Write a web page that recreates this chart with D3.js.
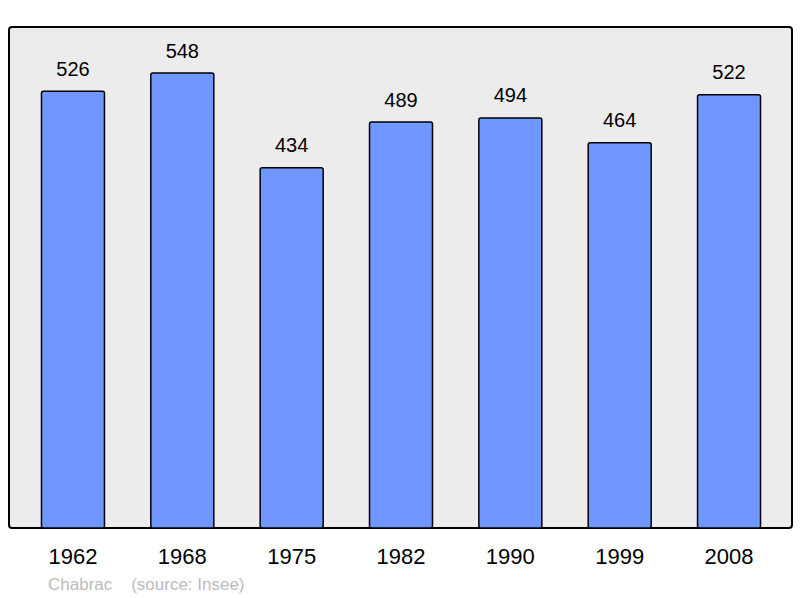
<!DOCTYPE html>
<html><head><meta charset="utf-8">
<script src="https://cdn.jsdelivr.net/npm/d3@7"></script>
<style>body{margin:0;background:#fff}svg{display:block}</style>
</head><body>
<script>
const years = ["1962","1968","1975","1982","1990","1999","2008"];
const population = [526,548,434,489,494,464,522];
const sourceText = ["Chabrac", "(source: Insee)"];

const W = 800, H = 598;
const svg = d3.select("body").append("svg").attr("width", W).attr("height", H)
  .style("font-family", "'Liberation Sans', Arial, sans-serif");

const frame = {x0: 9, y0: 27, x1: 792, y1: 528};
svg.append("rect").attr("x", frame.x0).attr("y", frame.y0)
  .attr("width", frame.x1 - frame.x0).attr("height", frame.y1 - frame.y0)
  .attr("rx", 3).attr("fill", "#ececec").attr("stroke", "#000").attr("stroke-width", 2);

const x = d3.scaleBand().domain(years).range([18.3, 783.7]).paddingInner(0.424).paddingOuter(0.212);
const y = d3.scaleLinear().domain([0, d3.max(population) * 1.1]).range([frame.y1, frame.y0]);

const data = years.map((yr, i) => ({yr, v: population[i]}));

svg.selectAll("rect.bar").data(data).enter().append("rect").attr("class", "bar")
  .attr("x", d => x(d.yr)).attr("y", d => y(d.v) + 0.5)
  .attr("width", x.bandwidth()).attr("height", d => y(0) - y(d.v) - 0.5)
  .attr("rx", 2).attr("fill", "#7097ff").attr("stroke", "#000").attr("stroke-width", 1.5);

svg.selectAll("text.val").data(data).enter().append("text").attr("class", "val")
  .attr("x", d => x(d.yr) + x.bandwidth() / 2).attr("y", d => y(d.v) - 15)
  .attr("text-anchor", "middle").attr("font-size", 20).attr("fill", "#000")
  .text(d => d.v);

svg.selectAll("text.yr").data(data).enter().append("text").attr("class", "yr")
  .attr("x", d => x(d.yr) + x.bandwidth() / 2).attr("y", 564)
  .attr("text-anchor", "middle").attr("font-size", 22).attr("fill", "#000")
  .text(d => d.yr);

svg.append("text").attr("x", 48).attr("y", 590).attr("font-size", 17).attr("fill", "#bbbbbb")
  .attr("xml:space", "preserve").style("white-space", "pre")
  .text(sourceText[0] + "    " + sourceText[1]);
</script>
</body></html>
